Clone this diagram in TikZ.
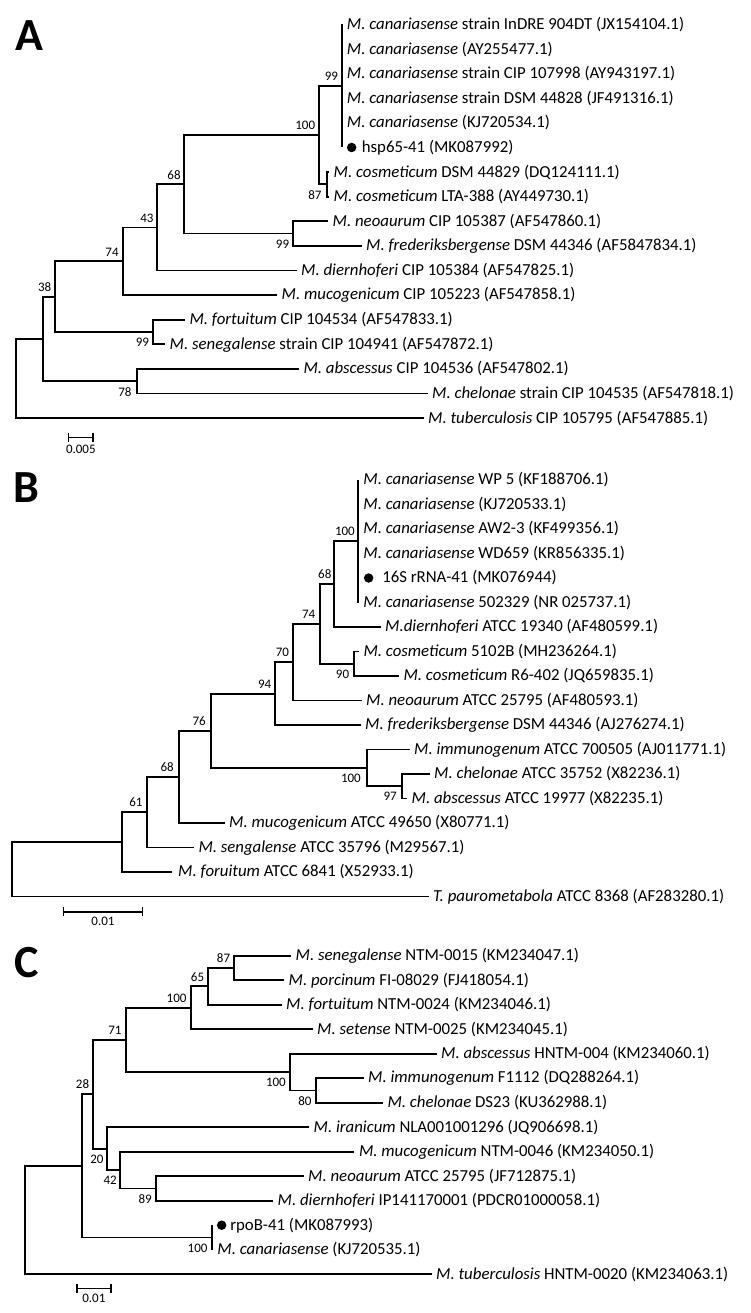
\documentclass[tikz,border=0pt]{standalone}
\usepackage{fontspec}
\setmainfont{Carlito}
\usetikzlibrary{positioning,arrows.meta}

\begin{document}
\begin{tikzpicture}[x=1pt,y=-1pt,
  branch/.style={line width=1.8pt},
  leaflabel/.style={inner sep=0pt, font=\fontsize{16.8}{19}\selectfont},
  boot/.style={inner sep=0pt, font=\fontsize{13}{15}\selectfont},
  dot/.style={circle, fill, inner sep=0pt, minimum size=9.5pt},
  panel/.style={inner sep=0pt, font=\fontsize{46}{50}\selectfont\bfseries},
  scalebar/.style={line width=1.6pt, {Bar[width=9pt]}-{Bar[width=9pt]}},
  scalelabel/.style={inner sep=0pt, font=\fontsize{13}{15}\selectfont}]
\useasboundingbox (0,0) rectangle (750,1313);

% ---------------- A: hsp65 ----------------
\node[panel] (pA) at (29,36) {A};
\coordinate (aR) at (16,378.5);
\coordinate (aN1) at (43.3,338.9);
\coordinate (a38) at (55,296.7);
\coordinate (a74) at (123.3,261.3);
\coordinate (a43) at (156.7,227.5);
\coordinate (a68) at (184.3,184.4);
\coordinate (a100) at (319.3,135.2);
\coordinate (a99c) at (341.7,86);
\coordinate (a87) at (326.7,184.4);
\coordinate (a99n) at (293.3,233.6);
\coordinate (a99f) at (152.7,332);
\coordinate (a78) at (136.7,381.2);
\coordinate (aL1) at (341.7,24.5);
\coordinate (aL2) at (341.7,49.1);
\coordinate (aL3) at (341.7,73.7);
\coordinate (aL4) at (341.7,98.3);
\coordinate (aL5) at (341.7,122.9);
\coordinate (aL6) at (341.7,147.5);
\coordinate (aL7) at (329,172.1);
\coordinate (aL8) at (329,196.7);
\coordinate (aL9) at (328,221.3);
\coordinate (aL10) at (361.5,245.9);
\coordinate (aL11) at (296.5,270.5);
\coordinate (aL12) at (277,295.1);
\coordinate (aL13) at (184.8,319.7);
\coordinate (aL14) at (165,344.3);
\coordinate (aL15) at (298.8,368.9);
\coordinate (aL16) at (427.5,393.5);
\coordinate (aL17) at (423.5,418.1);
\draw[branch] (aR) |- (aN1) (aR) |- (aL17);
\draw[branch] (aN1) |- (a38) (aN1) |- (a78);
\draw[branch] (a38) |- (a74) (a38) |- (a99f);
\draw[branch] (a74) |- (a43) (a74) |- (aL12);
\draw[branch] (a43) |- (a68) (a43) |- (aL11);
\draw[branch] (a68) |- (a100) (a68) |- (a99n);
\draw[branch] (a100) |- (a99c) (a100) |- (a87);
\draw[branch] (a99c) |- (aL1) (a99c) |- (aL6);
\draw[branch] (a87) |- (aL7) (a87) |- (aL8);
\draw[branch] (a99n) |- (aL9) (a99n) |- (aL10);
\draw[branch] (a99f) |- (aL13) (a99f) |- (aL14);
\draw[branch] (a78) |- (aL15) (a78) |- (aL16);
\node[leaflabel, right=5pt of aL1] (tA1) {\textit{M. canariasense} strain InDRE 904DT (JX154104.1)};
\node[leaflabel, right=5pt of aL2] (tA2) {\textit{M. canariasense} (AY255477.1)};
\node[leaflabel, right=5pt of aL3] (tA3) {\textit{M. canariasense} strain CIP 107998 (AY943197.1)};
\node[leaflabel, right=5pt of aL4] (tA4) {\textit{M. canariasense} strain DSM 44828 (JF491316.1)};
\node[leaflabel, right=5pt of aL5] (tA5) {\textit{M. canariasense} (KJ720534.1)};
\node[dot, right=5pt of aL6] (aDot) {};
\node[leaflabel, right=5pt of aDot] (tA6) {hsp65-41 (MK087992)};
\node[leaflabel, right=4.5pt of aL7] (tA7) {\textit{M. cosmeticum} DSM 44829 (DQ124111.1)};
\node[leaflabel, right=4.5pt of aL8] (tA8) {\textit{M. cosmeticum} LTA-388 (AY449730.1)};
\node[leaflabel, right=4.5pt of aL9] (tA9) {\textit{M. neoaurum} CIP 105387 (AF547860.1)};
\node[leaflabel, right=4.5pt of aL10] (tA10) {\textit{M. frederiksbergense} DSM 44346 (AF5847834.1)};
\node[leaflabel, right=4.5pt of aL11] (tA11) {\textit{M. diernhoferi} CIP 105384 (AF547825.1)};
\node[leaflabel, right=4.5pt of aL12] (tA12) {\textit{M. mucogenicum} CIP 105223 (AF547858.1)};
\node[leaflabel, right=4.5pt of aL13] (tA13) {\textit{M. fortuitum} CIP 104534 (AF547833.1)};
\node[leaflabel, right=4.5pt of aL14] (tA14) {\textit{M. senegalense} strain CIP 104941 (AF547872.1)};
\node[leaflabel, right=4.5pt of aL15] (tA15) {\textit{M. abscessus} CIP 104536 (AF547802.1)};
\node[leaflabel, right=4.5pt of aL16] (tA16) {\textit{M. chelonae} strain CIP 104535 (AF547818.1)};
\node[leaflabel, right=4.5pt of aL17] (tA17) {\textit{M. tuberculosis} CIP 105795 (AF547885.1)};
\node[boot, above left=5pt and 3.5pt of a99c] (bA99c) {99};
\node[boot, above left=5pt and 4pt of a100] (bA100) {100};
\node[boot, above left=5pt and 3.5pt of a68] (bA68) {68};
\node[boot, above left=5pt and 3pt of a43] (bA43) {43};
\node[boot, above left=5pt and 4.5pt of a74] (bA74) {74};
\node[boot, above left=5pt and 3.5pt of a38] (bA38) {38};
\node[boot, below left=6pt and 5pt of a87] (bA87) {87};
\node[boot, below left=6pt and 4pt of a99n] (bA99n) {99};
\node[boot, below left=6pt and 3.5pt of a99f] (bA99f) {99};
\node[boot, below left=6pt and 5pt of a78] (bA78) {78};
\coordinate (sA1) at (67.7,437.3);
\coordinate (sA2) at (94,437.3);
\draw[scalebar] (sA1) -- (sA2) node[scalelabel, midway, below=6.5pt] (lA) {0.005};

% ---------------- B: 16S rRNA ----------------
\node[panel] (pB) at (26,487.5) {B};
\coordinate (bR) at (11.7,869.3);
\coordinate (bN1) at (121.7,842.1);
\coordinate (b61) at (146.7,812.2);
\coordinate (b68b) at (179,776.9);
\coordinate (b76) at (211,730.75);
\coordinate (b94) at (275,693.6);
\coordinate (b70) at (292.7,662.2);
\coordinate (b74) at (320,623.9);
\coordinate (b68) at (334.3,584.1);
\coordinate (b100c) at (357.7,541.25);
\coordinate (b90) at (354.3,663.75);
\coordinate (b100i) at (367,767.9);
\coordinate (b97) at (402,786.25);
\coordinate (bL1) at (357.7,480);
\coordinate (bL2) at (357.7,504.5);
\coordinate (bL3) at (357.7,529);
\coordinate (bL4) at (357.7,553.5);
\coordinate (bL5) at (357.7,578);
\coordinate (bL6) at (357.7,602.5);
\coordinate (bL7) at (380.5,627);
\coordinate (bL8) at (358.8,651.5);
\coordinate (bL9) at (398.8,676);
\coordinate (bL10) at (361.5,700.5);
\coordinate (bL11) at (360.5,725);
\coordinate (bL12) at (409.5,749.5);
\coordinate (bL13) at (429.5,774);
\coordinate (bL14) at (407,798.5);
\coordinate (bL15) at (224.5,823);
\coordinate (bL16) at (193.8,847.5);
\coordinate (bL17) at (172,872);
\coordinate (bL18) at (428.5,896.5);
\draw[branch] (bR) |- (bN1) (bR) |- (bL18);
\draw[branch] (bN1) |- (b61) (bN1) |- (bL17);
\draw[branch] (b61) |- (b68b) (b61) |- (bL16);
\draw[branch] (b68b) |- (b76) (b68b) |- (bL15);
\draw[branch] (b76) |- (b94) (b76) |- (b100i);
\draw[branch] (b94) |- (b70) (b94) |- (bL11);
\draw[branch] (b70) |- (b74) (b70) |- (bL10);
\draw[branch] (b74) |- (b68) (b74) |- (b90);
\draw[branch] (b68) |- (b100c) (b68) |- (bL7);
\draw[branch] (b100c) |- (bL1) (b100c) |- (bL6);
\draw[branch] (b90) |- (bL8) (b90) |- (bL9);
\draw[branch] (b100i) |- (bL12) (b100i) |- (b97);
\draw[branch] (b97) |- (bL13) (b97) |- (bL14);
\node[leaflabel, right=5.5pt of bL1] (tB1) {\textit{M. canariasense} WP 5 (KF188706.1)};
\node[leaflabel, right=5.5pt of bL2] (tB2) {\textit{M. canariasense} (KJ720533.1)};
\node[leaflabel, right=5.5pt of bL3] (tB3) {\textit{M. canariasense} AW2-3 (KF499356.1)};
\node[leaflabel, right=5.5pt of bL4] (tB4) {\textit{M. canariasense} WD659 (KR856335.1)};
\node[dot, right=6pt of bL5] (bDot) {};
\node[leaflabel, right=8.5pt of bDot] (tB5) {16S rRNA-41 (MK076944)};
\node[leaflabel, right=5.5pt of bL6] (tB6) {\textit{M. canariasense} 502329 (NR 025737.1)};
\node[leaflabel, right=4.5pt of bL7] (tB7) {\textit{M.diernhoferi} ATCC 19340 (AF480599.1)};
\node[leaflabel, right=4.5pt of bL8] (tB8) {\textit{M. cosmeticum} 5102B (MH236264.1)};
\node[leaflabel, right=4.5pt of bL9] (tB9) {\textit{M. cosmeticum} R6-402 (JQ659835.1)};
\node[leaflabel, right=4.5pt of bL10] (tB10) {\textit{M. neoaurum} ATCC 25795 (AF480593.1)};
\node[leaflabel, right=4.5pt of bL11] (tB11) {\textit{M. frederiksbergense} DSM 44346 (AJ276274.1)};
\node[leaflabel, right=4.5pt of bL12] (tB12) {\textit{M. immunogenum} ATCC 700505 (AJ011771.1)};
\node[leaflabel, right=4.5pt of bL13] (tB13) {\textit{M. chelonae} ATCC 35752 (X82236.1)};
\node[leaflabel, right=4.5pt of bL14] (tB14) {\textit{M. abscessus} ATCC 19977 (X82235.1)};
\node[leaflabel, right=4.5pt of bL15] (tB15) {\textit{M. mucogenicum} ATCC 49650 (X80771.1)};
\node[leaflabel, right=4.5pt of bL16] (tB16) {\textit{M. sengalense} ATCC 35796 (M29567.1)};
\node[leaflabel, right=6pt of bL17] (tB17) {\textit{M. foruitum} ATCC 6841 (X52933.1)};
\node[leaflabel, right=4.5pt of bL18] (tB18) {\textit{T. paurometabola} ATCC 8368 (AF283280.1)};
\node[boot, above left=5pt and 2.7pt of b100c] (bB100c) {100};
\node[boot, above left=5pt and 2.7pt of b68] (bB68) {68};
\node[boot, above left=5pt and 4.5pt of b74] (bB74) {74};
\node[boot, above left=5pt and 3.5pt of b70] (bB70) {70};
\node[boot, above left=5pt and 3.5pt of b94] (bB94) {94};
\node[boot, above left=5pt and 5pt of b76] (bB76) {76};
\node[boot, above left=5pt and 5pt of b68b] (bB68b) {68};
\node[boot, above left=5pt and 4pt of b61] (bB61) {61};
\node[boot, below left=6pt and 5pt of b90] (bB90) {90};
\node[boot, below left=6pt and 6pt of b100i] (bB100i) {100};
\node[boot, below left=6pt and 5pt of b97] (bB97) {97};
\coordinate (sB1) at (62.7,911.7);
\coordinate (sB2) at (143.3,911.7);
\draw[scalebar] (sB1) -- (sB2) node[scalelabel, midway, below=5pt] (lB) {0.01};

% ---------------- C: rpoB ----------------
\node[panel] (pC) at (26.7,963) {C};
\coordinate (cR) at (25,1220);
\coordinate (cN1) at (81.7,1165.85);
\coordinate (c28) at (93.3,1094.25);
\coordinate (c71) at (125.7,1039.9);
\coordinate (c100a) at (190.7,1007.75);
\coordinate (c65) at (208.3,986.3);
\coordinate (c87) at (234.3,967.95);
\coordinate (c100b) at (290,1072.1);
\coordinate (c80) at (315.7,1090.45);
\coordinate (c20) at (106.7,1148.6);
\coordinate (c42) at (120,1170.1);
\coordinate (c89) at (156,1188.45);
\coordinate (c100c) at (211.7,1237.45);
\coordinate (cL1) at (291,955.7);
\coordinate (cL2) at (284,980.2);
\coordinate (cL3) at (281.5,1004.7);
\coordinate (cL4) at (312.5,1029.2);
\coordinate (cL5) at (436.5,1053.7);
\coordinate (cL6) at (363.5,1078.2);
\coordinate (cL7) at (382.8,1102.7);
\coordinate (cL8) at (309,1127.2);
\coordinate (cL9) at (354.3,1151.7);
\coordinate (cL10) at (303.5,1176.2);
\coordinate (cL11) at (273,1200.7);
\coordinate (cL12) at (211.7,1225.2);
\coordinate (cL13) at (211.7,1249.7);
\coordinate (cL14) at (431.5,1274.2);
\draw[branch] (cR) |- (cN1) (cR) |- (cL14);
\draw[branch] (cN1) |- (c28) (cN1) |- (c100c);
\draw[branch] (c28) |- (c71) (c28) |- (c20);
\draw[branch] (c71) |- (c100a) (c71) |- (c100b);
\draw[branch] (c100a) |- (c65) (c100a) |- (cL4);
\draw[branch] (c65) |- (c87) (c65) |- (cL3);
\draw[branch] (c87) |- (cL1) (c87) |- (cL2);
\draw[branch] (c100b) |- (cL5) (c100b) |- (c80);
\draw[branch] (c80) |- (cL6) (c80) |- (cL7);
\draw[branch] (c20) |- (cL8) (c20) |- (c42);
\draw[branch] (c42) |- (cL9) (c42) |- (c89);
\draw[branch] (c89) |- (cL10) (c89) |- (cL11);
\draw[branch] (c100c) |- (cL12) (c100c) |- (cL13);
\node[leaflabel, right=4.5pt of cL1] (tC1) {\textit{M. senegalense} NTM-0015 (KM234047.1)};
\node[leaflabel, right=4.5pt of cL2] (tC2) {\textit{M. porcinum} FI-08029 (FJ418054.1)};
\node[leaflabel, right=4.5pt of cL3] (tC3) {\textit{M. fortuitum} NTM-0024 (KM234046.1)};
\node[leaflabel, right=4.5pt of cL4] (tC4) {\textit{M. setense} NTM-0025 (KM234045.1)};
\node[leaflabel, right=4.5pt of cL5] (tC5) {\textit{M. abscessus} HNTM-004 (KM234060.1)};
\node[leaflabel, right=4.5pt of cL6] (tC6) {\textit{M. immunogenum} F1112 (DQ288264.1)};
\node[leaflabel, right=4.5pt of cL7] (tC7) {\textit{M. chelonae} DS23 (KU362988.1)};
\node[leaflabel, right=4.5pt of cL8] (tC8) {\textit{M. iranicum} NLA001001296 (JQ906698.1)};
\node[leaflabel, right=4.5pt of cL9] (tC9) {\textit{M. mucogenicum} NTM-0046 (KM234050.1)};
\node[leaflabel, right=4.5pt of cL10] (tC10) {\textit{M. neoaurum} ATCC 25795 (JF712875.1)};
\node[leaflabel, right=4.5pt of cL11] (tC11) {\textit{M. diernhoferi} IP141170001 (PDCR01000058.1)};
\node[dot, right=5pt of cL12] (cDot) {};
\node[leaflabel, right=3.5pt of cDot] (tC12) {rpoB-41 (MK087993)};
\node[leaflabel, right=5.5pt of cL13] (tC13) {\textit{M. canariasense} (KJ720535.1)};
\node[leaflabel, right=4.5pt of cL14] (tC14) {\textit{M. tuberculosis} HNTM-0020 (KM234063.1)};
\node[boot, above left=5pt and 4pt of c87] (bC87) {87};
\node[boot, above left=5pt and 4pt of c65] (bC65) {65};
\node[boot, above left=5pt and 4pt of c100a] (bC100a) {100};
\node[boot, above left=5pt and 4pt of c71] (bC71) {71};
\node[boot, above left=5pt and 4pt of c28] (bC28) {28};
\node[boot, below left=6pt and 3pt of c20] (bC20) {20};
\node[boot, below left=6pt and 3pt of c42] (bC42) {42};
\node[boot, below left=6pt and 4pt of c89] (bC89) {89};
\node[boot, below left=6pt and 4pt of c100b] (bC100b) {100};
\node[boot, below left=6pt and 4pt of c80] (bC80) {80};
\node[boot, below left=6pt and 4pt of c100c] (bC100c) {100};
\coordinate (sC1) at (76,1288.3);
\coordinate (sC2) at (111.7,1288.3);
\draw[scalebar] (sC1) -- (sC2) node[scalelabel, midway, below=5pt] (lC) {0.01};
\end{tikzpicture}
\end{document}
